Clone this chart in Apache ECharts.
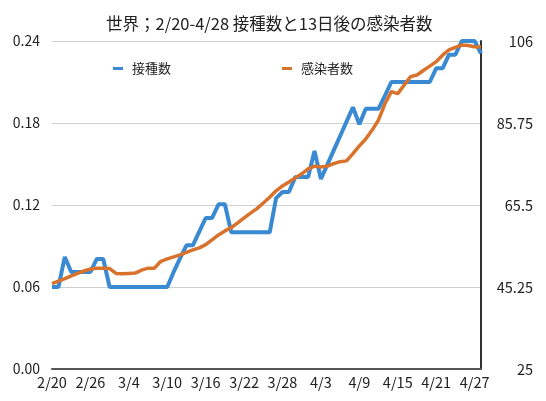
<!DOCTYPE html>
<html lang="ja">
<head>
<meta charset="utf-8">
<title>世界 接種数と13日後の感染者数</title>
<script src="https://cdn.jsdelivr.net/npm/echarts@6/dist/echarts.min.js"></script>
<style>
  html, body { margin: 0; padding: 0; background: #fff; }
  #chart { width: 546px; height: 401px; }
</style>
</head>
<body>
<div id="chart"></div>
<script>
var dates = [
  '2/20','2/21','2/22','2/23','2/24','2/25','2/26','2/27','2/28',
  '3/1','3/2','3/3','3/4','3/5','3/6','3/7','3/8','3/9','3/10',
  '3/11','3/12','3/13','3/14','3/15','3/16','3/17','3/18','3/19','3/20',
  '3/21','3/22','3/23','3/24','3/25','3/26','3/27','3/28','3/29','3/30','3/31',
  '4/1','4/2','4/3','4/4','4/5','4/6','4/7','4/8','4/9','4/10',
  '4/11','4/12','4/13','4/14','4/15','4/16','4/17','4/18','4/19','4/20',
  '4/21','4/22','4/23','4/24','4/25','4/26','4/27','4/28'
];

// 接種数 (left axis)
var vaccinated = [
  0.06, 0.06, 0.082, 0.071, 0.071, 0.071, 0.071, 0.0805, 0.0805, 0.06,
  0.06, 0.06, 0.06, 0.06, 0.06, 0.06, 0.06, 0.06, 0.06,
  0.071, 0.081, 0.0905, 0.0905, 0.1005, 0.1105, 0.1105, 0.1205, 0.1205, 0.1,
  0.1, 0.1, 0.1, 0.1, 0.1, 0.1,
  0.125, 0.1295, 0.1295, 0.1405, 0.1405, 0.1405, 0.1595, 0.139, 0.1495, 0.16,
  0.1705, 0.181, 0.1915, 0.179, 0.1905, 0.1905, 0.1905, 0.2, 0.21,
  0.21, 0.21, 0.21, 0.21, 0.21, 0.21,
  0.22, 0.22, 0.23, 0.23, 0.24, 0.24, 0.24, 0.231
];

// 感染者数 (right axis)
var infected = [
  46.1, 46.7, 47.3, 48.0, 48.6, 49.2, 49.7, 49.9, 49.9, 49.8,
  48.6, 48.5, 48.6, 48.7, 49.4, 49.9, 49.9, 51.6, 52.2, 52.7,
  53.2, 53.8, 54.4, 54.9, 55.7, 56.9, 58.1, 59.1, 59.9, 61.1,
  62.3, 63.5, 64.6, 66.0, 67.4, 69.0, 70.2, 71.2, 72.2, 73.2,
  74.4, 75.1, 74.9, 75.1, 75.7, 76.2, 76.4, 78.2, 80.1, 81.8,
  84.0, 86.5, 90.5, 93.5, 93.0, 95.1, 97.2, 97.6, 98.7, 99.8,
  100.9, 102.5, 103.8, 104.4, 105.0, 104.9, 104.6, 104.5
];

var rightTicks = [25, 45.25, 65.5, 85.75, 106];

var font = '"Noto Sans CJK JP", sans-serif';
var blue = '#3a89d3';
var orange = '#d8722c';

var myChart = echarts.init(document.getElementById('chart'));

myChart.setOption({
  animation: false,
  textStyle: { fontFamily: font },
  title: {
    text: '世界；2/20-4/28 接種数と13日後の感染者数',
    left: 106,
    top: 15,
    padding: 0,
    textStyle: { fontFamily: font, fontSize: 16.5, fontWeight: 'normal', color: '#222' }
  },
  legend: [{
    data: ['接種数'],
    left: 113,
    top: 62,
    padding: 0,
    icon: 'rect',
    itemWidth: 10,
    itemHeight: 3,
    textStyle: { fontFamily: font, fontSize: 13, color: '#222', padding: [0, 0, 0, 4] }
  }, {
    data: ['感染者数'],
    left: 282,
    top: 62,
    padding: 0,
    icon: 'rect',
    itemWidth: 10,
    itemHeight: 3,
    textStyle: { fontFamily: font, fontSize: 13, color: '#222', padding: [0, 0, 0, 4] }
  }],
  grid: { left: 52, right: 65, top: 41, bottom: 32 },
  xAxis: {
    type: 'category',
    data: dates,
    boundaryGap: false,
    axisLine: { lineStyle: { color: '#555', width: 2 } },
    axisTick: { show: false },
    axisLabel: { interval: 5, margin: 6, fontSize: 14.5, color: '#222', fontFamily: font }
  },
  yAxis: [{
    type: 'value',
    min: 0,
    max: 0.24,
    interval: 0.06,
    axisLine: { show: false },
    axisTick: { show: false },
    splitLine: { lineStyle: { color: '#d0d0d0', width: 1 } },
    axisLabel: {
      margin: 12,
      fontSize: 14,
      color: '#222',
      fontFamily: font,
      formatter: function (v) { return v.toFixed(2); }
    }
  }, {
    type: 'value',
    position: 'right',
    min: 25,
    max: 106,
    axisLine: { show: true, lineStyle: { color: '#333', width: 2 } },
    axisTick: { show: false },
    splitLine: { show: false },
    axisLabel: {
      customValues: rightTicks,
      margin: 52,
      align: 'right',
      fontSize: 14.5,
      color: '#222',
      fontFamily: font
    }
  }],
  series: [{
    name: '接種数',
    type: 'line',
    data: vaccinated,
    yAxisIndex: 0,
    symbol: 'none',
    itemStyle: { color: blue },
    lineStyle: { color: blue, width: 4 }
  }, {
    name: '感染者数',
    type: 'line',
    data: infected,
    yAxisIndex: 1,
    symbol: 'none',
    itemStyle: { color: orange },
    lineStyle: { color: orange, width: 3.5 }
  }]
});
</script>
</body>
</html>
